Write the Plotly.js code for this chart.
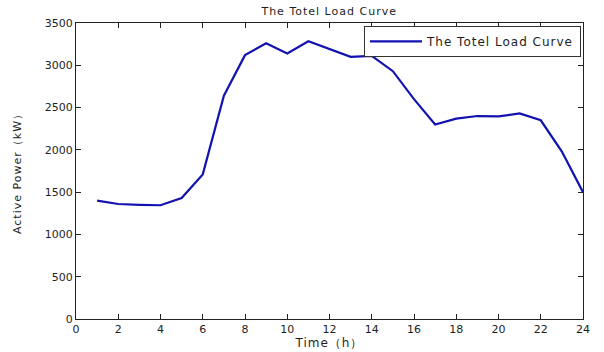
<!DOCTYPE html>
<html>
<head>
<meta charset="utf-8">
<script src="https://cdn.plot.ly/plotly-3.0.1.min.js"></script>
<style>html,body{margin:0;padding:0;background:#fff;}</style>
</head>
<body>
<div id="chart" style="width:604px;height:352px;"></div>
<script>
const hours = [1,2,3,4,5,6,7,8,9,10,11,12,13,14,15,16,17,18,19,20,21,22,23,24];
const load = [1400,1360,1350,1345,1430,1710,2640,3120,3260,3140,3285,3195,3100,3110,2930,2600,2300,2370,2400,2395,2430,2350,1980,1500];
const xTicks = [0,2,4,6,8,10,12,14,16,18,20,22,24];
const yTicks = [0,500,1000,1500,2000,2500,3000,3500];
const titleText = 'The Totel Load Curve';
const seriesName = 'The Totel Load Curve';
const xTitle = 'Time（h）';
const yTitle = 'Active Power（kW）';

const fam = 'DejaVu Sans, Verdana, sans-serif';
const txtColor = '#1e1e1e';
const sp = (t, px) => '<span style="letter-spacing:' + px + 'px">' + t + '</span>';

Plotly.newPlot('chart', [{
  x: hours, y: load, type: 'scatter', mode: 'lines',
  name: sp(seriesName, 1),
  line: {color: '#1212b0', width: 2.2}
}], {
  width: 604, height: 352,
  margin: {l: 76, r: 21, t: 23, b: 33},
  paper_bgcolor: '#fff', plot_bgcolor: '#fff',
  font: {family: fam, size: 11, color: txtColor},
  title: {text: sp(titleText, 1), x: 0.545, xanchor: 'center', y: 0.958, yanchor: 'bottom',
          font: {family: fam, size: 11, color: txtColor}},
  showlegend: true,
  legend: {x: 0.996, xanchor: 'right', y: 0.99, yanchor: 'top', bordercolor: '#333', borderwidth: 1,
           itemwidth: 52,
           bgcolor: '#fff', font: {family: fam, size: 12, color: txtColor}},
  xaxis: {
    range: [0, 24], tickvals: xTicks, ticktext: xTicks.map(String),
    ticks: 'inside', ticklen: 5, tickcolor: '#222', showgrid: false, zeroline: false,
    showline: true, linecolor: '#222', linewidth: 1, mirror: 'ticks',
    title: {text: sp(xTitle, 1), standoff: 0, font: {family: fam, size: 12, color: txtColor}},
    tickfont: {family: fam, size: 11, color: txtColor}
  },
  yaxis: {
    range: [0, 3500], tickvals: yTicks, ticktext: yTicks.map(String),
    ticks: 'inside', ticklen: 5, tickcolor: '#222', showgrid: false, zeroline: false,
    showline: true, linecolor: '#222', linewidth: 1, mirror: 'ticks',
    title: {text: sp(yTitle, 1), standoff: 20, font: {family: fam, size: 11, color: txtColor}},
    tickfont: {family: fam, size: 11, color: txtColor}
  }
}, {displayModeBar: false, staticPlot: true});
</script>
</body>
</html>
